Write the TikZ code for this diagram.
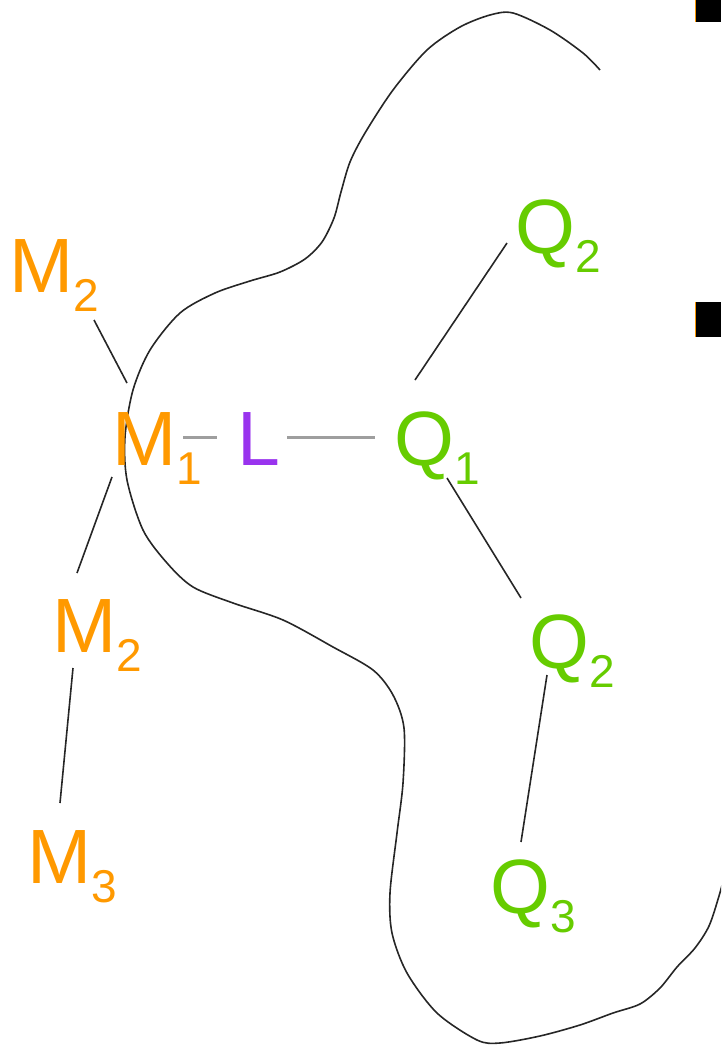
\documentclass[tikz,border=0pt]{standalone}
\usepackage{fontspec}
\setmainfont{Liberation Sans}
\definecolor{morange}{RGB}{255,153,0}
\definecolor{qgreen}{RGB}{102,204,0}
\definecolor{lpurple}{RGB}{153,51,238}
\newcommand\lbl[2]{#1\raisebox{-19pt}{\fontsize{46}{46}\selectfont #2}}
\begin{document}
\begin{tikzpicture}[x=1pt,y=-1pt,
  atom/.style={anchor=base west, inner sep=0pt, font=\fontsize{77}{80}\selectfont},
  metal/.style={atom, text=morange},
  quin/.style={atom, text=qgreen},
  lig/.style={atom, text=lpurple},
  conn/.style={draw=black!85, line width=1.6pt},
  gconn/.style={draw=black!38, line width=3pt},
  outline/.style={draw=black!85, line width=1.6pt},
  bullet/.style={fill=black, draw=none}]
\useasboundingbox (0,0) rectangle (721,1047);
\clip (0,0) rectangle (721,1047);

% outline curve
\draw[outline] plot[smooth, tension=0.5] coordinates {
  (600,70) (583,53) (550,30) (513,13) (490,15) (460,27) (427,50)
  (393,90) (365,133) (350,162) (341,192) (334,218) (322,242) (305,259)
  (280,272) (250,281) (215,293)
  (180,313) (150,350) (133,390) (125,437) (127,480) (143,530) (167,563)
  (193,587) (233,603) (283,620) (333,647) (373,670) (393,695) (404,728)
  (403,783) (397,833) (390,893) (392,933) (407,973) (437,1013) (477,1040)
  (500,1043) (540,1036) (580,1025) (613,1013) (640,1004) (660,988) (677,967)
  (695,948) (709,926) (719,896) (726,870)};

% bullets
\fill[bullet] (695,0) rectangle (721,22);
\fill[bullet] (695,302) rectangle (721,337);
\draw[morange, line width=0.8pt] (695.4,0) -- (695.4,22);
\draw[morange, line width=0.8pt] (695.4,302) -- (695.4,337);

% nodes
\node[metal] (m2a) at (9,292) {\lbl{M}{2}};
\node[metal] (m1) at (112,465) {\lbl{M}{1}};
\node[lig] (L) at (237,465) {L};
\node[quin] (q1) at (394,465) {\lbl{Q}{1}};
\node[quin] (q2a) at (515,253) {\lbl{Q}{2}};
\node[quin] (q2b) at (529,668) {\lbl{Q}{2}};
\node[quin] (q3) at (490,913) {\lbl{Q}{3}};
\node[metal] (m2b) at (52,652) {\lbl{M}{2}};
\node[metal] (m3) at (27,883) {\lbl{M}{3}};

% connectors
\draw[conn] ([shift={(85,28)}]m2a.base west) -- ([shift={(15,-82)}]m1.base west);
\draw[conn] ([shift={(0,12)}]m1.base west) -- ([shift={(25,-79)}]m2b.base west);
\draw[conn] ([shift={(21,16)}]m2b.base west) -- ([shift={(33,-80)}]m3.base west);
\draw[gconn] ([shift={(71,-28)}]m1.base west) -- ([shift={(-20,-28)}]L.base west);
\draw[gconn] ([shift={(50,-28)}]L.base west) -- ([shift={(-19,-28)}]q1.base west);
\draw[conn] ([shift={(21,-85)}]q1.base west) -- ([shift={(-8,-10)}]q2a.base west);
\draw[conn] ([shift={(53,13)}]q1.base west) -- ([shift={(-8,-70)}]q2b.base west);
\draw[conn] ([shift={(18,7)}]q2b.base west) -- ([shift={(31,-71)}]q3.base west);
\end{tikzpicture}
\end{document}
